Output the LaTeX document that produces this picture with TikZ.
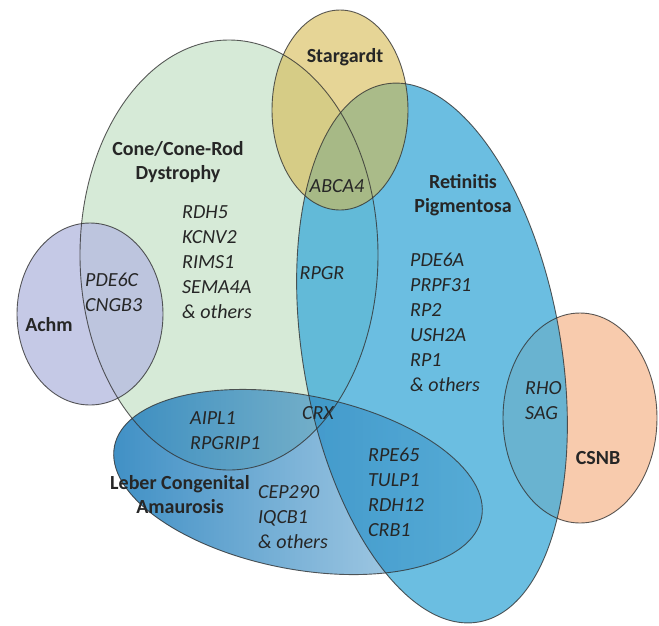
\documentclass[tikz,border=0pt]{standalone}
\usepackage{fontspec}
\setmainfont{Carlito}
\usetikzlibrary{fadings}
\definecolor{crdgreen}{RGB}{214,234,215}
\definecolor{achmlilac}{RGB}{183,188,224}
\definecolor{stgyellow}{RGB}{214,185,80}
\definecolor{rpblue}{RGB}{70,174,217}
\definecolor{csnbpeach}{RGB}{248,203,173}
\definecolor{lcablue}{RGB}{40,130,190}
\definecolor{vennline}{RGB}{50,50,50}
\tikzfading[name=lcafade, left color=transparent!10, right color=transparent!70]

\begin{document}
\begin{tikzpicture}[x=1pt, y=-1pt,
      rim/.style={draw=vennline, draw opacity=0.8, line width=0.9pt},
      disease/.style={font=\bfseries\fontsize{20}{24}\selectfont, text=black!85, align=center, inner sep=0pt},
      genes/.style={font=\itshape\fontsize{20}{25}\selectfont, text=black!85, align=left, inner sep=0pt}
    ]
      \useasboundingbox (0,0) rectangle (659,625);

      % fills
      \fill[crdgreen] (229,255) ellipse [x radius=149, y radius=215];
      \fill[achmlilac, fill opacity=0.8] (90,314) ellipse [x radius=73, y radius=91];
      \fill[csnbpeach] (580,418) ellipse [x radius=77, y radius=105];
      \fill[rpblue, fill opacity=0.8, rotate around={9.8:(432,353)}] (432,353) ellipse [x radius=129, y radius=273];
      \fill[lcablue, path fading=lcafade, rotate around={-11:(298,482)}] (298,482) ellipse [x radius=187, y radius=87];
      \fill[stgyellow, fill opacity=0.6] (340,110) ellipse [x radius=68, y radius=100];

      % outlines
      \draw[rim] (229,255) ellipse [x radius=149, y radius=215];
      \draw[rim] (90,314) ellipse [x radius=73, y radius=91];
      \draw[rim] (580,418) ellipse [x radius=77, y radius=105];
      \draw[rim, rotate around={9.8:(432,353)}] (432,353) ellipse [x radius=129, y radius=273];
      \draw[rim, rotate around={-11:(298,482)}] (298,482) ellipse [x radius=187, y radius=87];
      \draw[rim] (340,110) ellipse [x radius=68, y radius=100];

      % disease names
      \node[disease, anchor=base] (stargardt) at (345,62) {Stargardt};
      \node[disease, anchor=north] (crd) at (178,141) {Cone/Cone-Rod\\Dystrophy};
      \node[disease, anchor=north] (rp) at (463,174) {Retinitis\\Pigmentosa};
      \node[disease, anchor=base] (achm) at (49,331) {Achm};
      \node[disease, anchor=base] (csnb) at (598,464) {CSNB};
      \node[disease, anchor=north] (lca) at (180,475) {Leber Congenital\\Amaurosis};

      % genes
      \node[genes, anchor=base] (abca4) at (337,192) {ABCA4};
      \node[genes, anchor=base] (rpgr) at (322,279) {RPGR};
      \node[genes, anchor=base] (crx) at (318,419) {CRX};
      \node[genes, anchor=north west] (crdgenes) at (182,205) {RDH5\\KCNV2\\RIMS1\\SEMA4A\\\& others};
      \node[genes, anchor=north west] (rpgenes) at (410,253) {PDE6A\\PRPF31\\RP2\\USH2A\\RP1\\\& others};
      \node[genes, anchor=north west] (achmgenes) at (85,273) {PDE6C\\CNGB3};
      \node[genes, anchor=north west] (crdlca) at (190,411) {AIPL1\\RPGRIP1};
      \node[genes, anchor=north west] (rplca) at (368,448) {RPE65\\TULP1\\RDH12\\CRB1};
      \node[genes, anchor=north west] (lcagenes) at (258,485) {CEP290\\IQCB1\\\& others};
      \node[genes, anchor=north west] (rpcsnb) at (525,381) {RHO\\SAG};
    \end{tikzpicture}
\end{document}
